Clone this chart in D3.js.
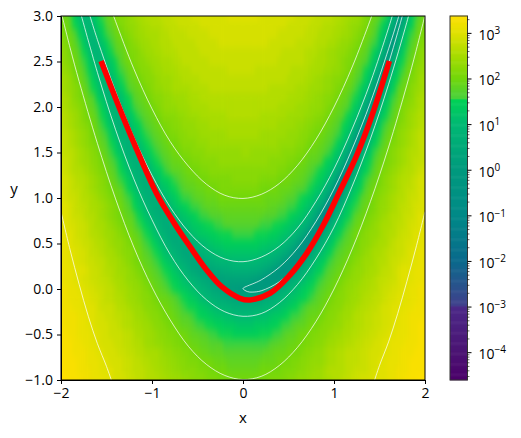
<!DOCTYPE html>
<html>
<head>
<meta charset="utf-8">
<script src="https://cdn.jsdelivr.net/npm/d3@7"></script>
<style>
  html, body { margin: 0; padding: 0; background: #fff; }
  text { font-family: "Open Sans", sans-serif; fill: #000; }
</style>
</head>
<body>
<svg id="chart" width="521" height="438"></svg>
<script>
// log10 of the field, one row per y (3.0 down to -1.0), one column per x (-2.0 to 2.0), step 0.1
const logField = [
[2.0,1.7,1.1,.9,1.4,1.8,2.1,2.2,2.4,2.5,2.6,2.7,2.7,2.8,2.8,2.9,2.9,2.9,2.9,3.0,3.0,3.0,2.9,2.9,2.9,2.9,2.8,2.8,2.7,2.7,2.6,2.5,2.4,2.3,2.0,1.8,1.3,.2,.8,1.6,2.0],
[2.1,1.8,1.3,.9,1.3,1.7,2.0,2.2,2.3,2.5,2.6,2.6,2.7,2.8,2.8,2.8,2.9,2.9,2.9,2.9,2.9,2.9,2.9,2.9,2.9,2.8,2.8,2.8,2.7,2.6,2.6,2.5,2.3,2.2,1.9,1.6,1.1,-.3,1.1,1.7,2.1],
[2.2,1.9,1.4,.9,1.1,1.6,1.9,2.1,2.3,2.4,2.5,2.6,2.7,2.7,2.8,2.8,2.8,2.9,2.9,2.9,2.9,2.9,2.9,2.9,2.8,2.8,2.8,2.7,2.7,2.6,2.5,2.4,2.3,2.1,1.9,1.5,.8,.1,1.3,1.8,2.2],
[2.3,2.0,1.6,1.0,.9,1.4,1.8,2.0,2.2,2.4,2.5,2.6,2.6,2.7,2.7,2.8,2.8,2.8,2.9,2.9,2.9,2.9,2.9,2.8,2.8,2.8,2.7,2.7,2.6,2.6,2.5,2.3,2.2,2.0,1.7,1.3,.4,.6,1.5,1.9,2.2],
[2.3,2.0,1.7,1.2,.8,1.3,1.7,1.9,2.1,2.3,2.4,2.5,2.6,2.7,2.7,2.7,2.8,2.8,2.8,2.8,2.8,2.8,2.8,2.8,2.8,2.7,2.7,2.6,2.6,2.5,2.4,2.3,2.1,1.9,1.6,1.1,-.3,.9,1.6,2.0,2.3],
[2.4,2.1,1.8,1.4,.9,1.1,1.5,1.9,2.1,2.2,2.4,2.5,2.5,2.6,2.7,2.7,2.7,2.8,2.8,2.8,2.8,2.8,2.8,2.8,2.7,2.7,2.7,2.6,2.5,2.5,2.4,2.2,2.1,1.8,1.5,.8,-.1,1.2,1.7,2.1,2.4],
[2.4,2.2,1.9,1.5,1.0,.9,1.4,1.7,2.0,2.2,2.3,2.4,2.5,2.6,2.6,2.7,2.7,2.7,2.7,2.8,2.8,2.8,2.7,2.7,2.7,2.7,2.6,2.6,2.5,2.4,2.3,2.2,2.0,1.7,1.3,.4,.4,1.4,1.9,2.2,2.4],
[2.5,2.3,2.0,1.6,1.1,.8,1.2,1.6,1.9,2.1,2.2,2.4,2.4,2.5,2.6,2.6,2.7,2.7,2.7,2.7,2.7,2.7,2.7,2.7,2.7,2.6,2.6,2.5,2.4,2.3,2.2,2.1,1.9,1.6,1.1,-.3,.9,1.5,1.9,2.2,2.5],
[2.5,2.3,2.1,1.7,1.3,.8,1.1,1.5,1.8,2.0,2.2,2.3,2.4,2.5,2.5,2.6,2.6,2.7,2.7,2.7,2.7,2.7,2.7,2.6,2.6,2.6,2.5,2.5,2.4,2.3,2.2,2.0,1.8,1.4,.8,-.3,1.1,1.7,2.0,2.3,2.5],
[2.6,2.4,2.1,1.8,1.4,.9,.9,1.3,1.7,1.9,2.1,2.2,2.3,2.4,2.5,2.5,2.6,2.6,2.6,2.6,2.6,2.6,2.6,2.6,2.6,2.5,2.5,2.4,2.3,2.2,2.1,1.9,1.6,1.2,.3,.4,1.3,1.8,2.1,2.4,2.6],
[2.6,2.4,2.2,1.9,1.6,1.1,.8,1.2,1.6,1.8,2.0,2.2,2.3,2.4,2.4,2.5,2.5,2.6,2.6,2.6,2.6,2.6,2.6,2.6,2.5,2.5,2.4,2.4,2.3,2.2,2.0,1.8,1.5,1.0,-.5,.8,1.5,1.9,2.2,2.4,2.6],
[2.7,2.5,2.3,2.0,1.7,1.3,.8,1.0,1.4,1.7,1.9,2.1,2.2,2.3,2.4,2.4,2.5,2.5,2.5,2.6,2.6,2.6,2.5,2.5,2.5,2.4,2.4,2.3,2.2,2.1,1.9,1.7,1.3,.7,-.3,1.1,1.6,2.0,2.3,2.5,2.6],
[2.7,2.5,2.3,2.1,1.8,1.4,.9,.8,1.3,1.6,1.8,2.0,2.1,2.2,2.3,2.4,2.4,2.5,2.5,2.5,2.5,2.5,2.5,2.5,2.4,2.4,2.3,2.2,2.1,2.0,1.8,1.5,1.1,.1,.4,1.3,1.8,2.1,2.3,2.5,2.7],
[2.7,2.6,2.4,2.2,1.9,1.6,1.1,.7,1.1,1.5,1.7,1.9,2.1,2.2,2.3,2.3,2.4,2.4,2.4,2.5,2.5,2.5,2.4,2.4,2.4,2.3,2.3,2.2,2.0,1.9,1.7,1.4,.8,-1.0,.8,1.5,1.9,2.2,2.4,2.6,2.7],
[2.8,2.6,2.4,2.2,2.0,1.7,1.3,.8,.9,1.3,1.6,1.8,2.0,2.1,2.2,2.3,2.3,2.4,2.4,2.4,2.4,2.4,2.4,2.4,2.3,2.3,2.2,2.1,2.0,1.8,1.6,1.2,.4,-.1,1.1,1.6,2.0,2.2,2.4,2.6,2.8],
[2.8,2.7,2.5,2.3,2.1,1.8,1.4,.9,.7,1.1,1.5,1.7,1.9,2.0,2.1,2.2,2.3,2.3,2.3,2.3,2.4,2.3,2.3,2.3,2.3,2.2,2.1,2.0,1.9,1.7,1.4,.9,-.4,.6,1.3,1.8,2.1,2.3,2.5,2.6,2.8],
[2.8,2.7,2.5,2.4,2.2,1.9,1.6,1.1,.7,.9,1.3,1.6,1.8,1.9,2.0,2.1,2.2,2.2,2.3,2.3,2.3,2.3,2.3,2.2,2.2,2.1,2.0,1.9,1.8,1.5,1.2,.6,-.7,.9,1.5,1.9,2.1,2.3,2.5,2.7,2.8],
[2.9,2.7,2.6,2.4,2.2,2.0,1.7,1.3,.8,.7,1.1,1.4,1.7,1.8,2.0,2.0,2.1,2.2,2.2,2.2,2.2,2.2,2.2,2.2,2.1,2.0,1.9,1.8,1.6,1.4,1.0,-.1,.3,1.2,1.6,2.0,2.2,2.4,2.6,2.7,2.9],
[2.9,2.8,2.6,2.5,2.3,2.1,1.8,1.5,1.0,.6,.9,1.3,1.5,1.7,1.9,2.0,2.0,2.1,2.1,2.2,2.2,2.2,2.1,2.1,2.0,2.0,1.9,1.7,1.5,1.2,.6,-1.7,.8,1.4,1.8,2.0,2.3,2.5,2.6,2.8,2.9],
[2.9,2.8,2.7,2.5,2.3,2.1,1.9,1.6,1.2,.7,.7,1.1,1.4,1.6,1.8,1.9,2.0,2.0,2.1,2.1,2.1,2.1,2.0,2.0,1.9,1.9,1.7,1.6,1.3,.9,0,.1,1.1,1.5,1.9,2.1,2.3,2.5,2.7,2.8,2.9],
[3.0,2.8,2.7,2.6,2.4,2.2,2.0,1.7,1.4,.9,.6,.9,1.2,1.5,1.6,1.8,1.9,1.9,2.0,2.0,2.0,2.0,2.0,1.9,1.9,1.7,1.6,1.4,1.1,.6,-1.5,.6,1.3,1.7,2.0,2.2,2.4,2.6,2.7,2.8,3.0],
[3.0,2.9,2.7,2.6,2.5,2.3,2.1,1.8,1.5,1.1,.7,.6,1.0,1.3,1.5,1.6,1.8,1.8,1.9,1.9,1.9,1.9,1.9,1.8,1.7,1.6,1.5,1.2,.8,-.1,0,1.0,1.5,1.8,2.0,2.3,2.4,2.6,2.7,2.9,3.0],
[3.0,2.9,2.8,2.6,2.5,2.3,2.1,1.9,1.7,1.3,.9,.6,.8,1.1,1.3,1.5,1.6,1.7,1.8,1.8,1.8,1.8,1.8,1.7,1.6,1.5,1.3,1.0,.4,-1.7,.6,1.2,1.6,1.9,2.1,2.3,2.5,2.6,2.8,2.9,3.0],
[3.0,2.9,2.8,2.7,2.5,2.4,2.2,2.0,1.8,1.5,1.1,.7,.6,.9,1.1,1.3,1.5,1.6,1.7,1.7,1.7,1.7,1.6,1.6,1.5,1.3,1.1,.7,-.4,.1,1.0,1.4,1.7,2.0,2.2,2.4,2.5,2.7,2.8,2.9,3.0],
[3.1,3.0,2.8,2.7,2.6,2.4,2.3,2.1,1.9,1.6,1.3,.9,.5,.6,.9,1.2,1.3,1.4,1.5,1.6,1.6,1.6,1.5,1.4,1.3,1.1,.8,.1,-.7,.6,1.2,1.6,1.9,2.1,2.3,2.4,2.6,2.7,2.8,3.0,3.1],
[3.1,3.0,2.9,2.8,2.6,2.5,2.3,2.2,2.0,1.7,1.5,1.1,.7,.5,.7,.9,1.1,1.3,1.4,1.4,1.4,1.4,1.3,1.2,1.1,.8,.3,-1.0,.3,1.0,1.4,1.7,1.9,2.2,2.3,2.5,2.6,2.8,2.9,3.0,3.1],
[3.1,3.0,2.9,2.8,2.7,2.5,2.4,2.2,2.1,1.8,1.6,1.3,1.0,.6,.4,.7,.9,1.1,1.2,1.2,1.2,1.2,1.1,1.0,.8,.4,-.5,0,.8,1.2,1.6,1.8,2.0,2.2,2.4,2.5,2.7,2.8,2.9,3.0,3.1],
[3.1,3.0,2.9,2.8,2.7,2.6,2.5,2.3,2.1,1.9,1.7,1.5,1.2,.8,.5,.4,.6,.8,.9,1.0,1.0,1.0,.9,.7,.4,-.3,-.3,.6,1.1,1.4,1.7,1.9,2.1,2.3,2.4,2.6,2.7,2.8,2.9,3.0,3.1],
[3.2,3.1,3.0,2.9,2.8,2.6,2.5,2.4,2.2,2.0,1.8,1.6,1.4,1.1,.7,.4,.3,.5,.6,.7,.7,.6,.5,.2,-.3,-.3,.4,.9,1.3,1.6,1.8,2.0,2.2,2.3,2.5,2.6,2.7,2.9,3.0,3.1,3.2],
[3.2,3.1,3.0,2.9,2.8,2.7,2.5,2.4,2.3,2.1,1.9,1.7,1.5,1.3,1.0,.7,.4,.2,.3,.3,.3,.2,0,-.3,-.2,.4,.8,1.2,1.5,1.7,1.9,2.1,2.3,2.4,2.5,2.7,2.8,2.9,3.0,3.1,3.2],
[3.2,3.1,3.0,2.9,2.8,2.7,2.6,2.5,2.3,2.2,2.0,1.8,1.6,1.4,1.2,.9,.7,.4,.2,.1,0,-.1,-.1,.1,.5,.8,1.1,1.4,1.6,1.8,2.0,2.2,2.3,2.5,2.6,2.7,2.8,2.9,3.0,3.1,3.2],
[3.2,3.1,3.1,3.0,2.9,2.7,2.6,2.5,2.4,2.2,2.1,1.9,1.8,1.6,1.4,1.2,.9,.7,.5,.4,.3,.3,.4,.6,.9,1.1,1.3,1.5,1.7,1.9,2.1,2.2,2.4,2.5,2.6,2.7,2.9,3.0,3.0,3.1,3.2],
[3.2,3.2,3.1,3.0,2.9,2.8,2.7,2.6,2.4,2.3,2.2,2.0,1.9,1.7,1.5,1.4,1.2,1.0,.9,.7,.7,.7,.8,.9,1.1,1.3,1.5,1.7,1.8,2.0,2.2,2.3,2.4,2.6,2.7,2.8,2.9,3.0,3.1,3.2,3.2],
[3.3,3.2,3.1,3.0,2.9,2.8,2.7,2.6,2.5,2.4,2.2,2.1,2.0,1.8,1.7,1.5,1.4,1.2,1.1,1.0,1.0,1.0,1.1,1.2,1.3,1.5,1.6,1.8,1.9,2.1,2.2,2.4,2.5,2.6,2.7,2.8,2.9,3.0,3.1,3.2,3.3],
[3.3,3.2,3.1,3.0,2.9,2.9,2.8,2.6,2.5,2.4,2.3,2.2,2.0,1.9,1.8,1.6,1.5,1.4,1.3,1.3,1.2,1.2,1.3,1.4,1.5,1.6,1.8,1.9,2.0,2.2,2.3,2.4,2.5,2.6,2.7,2.8,2.9,3.0,3.1,3.2,3.3],
[3.3,3.2,3.1,3.1,3.0,2.9,2.8,2.7,2.6,2.5,2.4,2.2,2.1,2.0,1.9,1.8,1.7,1.6,1.5,1.4,1.4,1.4,1.5,1.5,1.6,1.8,1.9,2.0,2.1,2.2,2.4,2.5,2.6,2.7,2.8,2.9,3.0,3.1,3.1,3.2,3.3],
[3.3,3.3,3.2,3.1,3.0,2.9,2.8,2.7,2.6,2.5,2.4,2.3,2.2,2.1,2.0,1.9,1.8,1.7,1.6,1.6,1.6,1.6,1.6,1.7,1.8,1.9,2.0,2.1,2.2,2.3,2.4,2.5,2.6,2.7,2.8,2.9,3.0,3.1,3.2,3.2,3.3],
[3.3,3.3,3.2,3.1,3.0,2.9,2.9,2.8,2.7,2.6,2.5,2.4,2.3,2.2,2.1,2.0,1.9,1.8,1.7,1.7,1.7,1.7,1.7,1.8,1.9,2.0,2.0,2.2,2.3,2.4,2.5,2.6,2.7,2.8,2.9,2.9,3.0,3.1,3.2,3.3,3.3],
[3.4,3.3,3.2,3.1,3.1,3.0,2.9,2.8,2.7,2.6,2.5,2.4,2.3,2.2,2.1,2.1,2.0,1.9,1.9,1.8,1.8,1.8,1.9,1.9,2.0,2.0,2.1,2.2,2.3,2.4,2.5,2.6,2.7,2.8,2.9,3.0,3.1,3.1,3.2,3.3,3.4],
[3.4,3.3,3.2,3.2,3.1,3.0,2.9,2.8,2.7,2.7,2.6,2.5,2.4,2.3,2.2,2.1,2.1,2.0,2.0,1.9,1.9,1.9,2.0,2.0,2.0,2.1,2.2,2.3,2.4,2.5,2.6,2.6,2.7,2.8,2.9,3.0,3.1,3.2,3.2,3.3,3.4],
[3.4,3.3,3.3,3.2,3.1,3.0,2.9,2.9,2.8,2.7,2.6,2.5,2.4,2.4,2.3,2.2,2.1,2.1,2.0,2.0,2.0,2.0,2.0,2.1,2.1,2.2,2.3,2.3,2.4,2.5,2.6,2.7,2.8,2.9,2.9,3.0,3.1,3.2,3.3,3.3,3.4]
];

// same rows, columns in between: x = -1.95, -1.85 ... -0.05, 0.05 ... 1.95
const logFieldMid = [
[1.9,1.4,.9,1.2,1.6,1.9,2.2,2.3,2.5,2.6,2.6,2.7,2.8,2.8,2.9,2.9,2.9,2.9,3.0,3.0,3.0,3.0,2.9,2.9,2.9,2.9,2.8,2.8,2.7,2.7,2.6,2.5,2.4,2.1,1.9,1.6,.9,0,1.3,1.8],
[2.0,1.5,1.0,1.0,1.5,1.8,2.1,2.3,2.4,2.5,2.6,2.7,2.7,2.8,2.8,2.9,2.9,2.9,2.9,2.9,2.9,2.9,2.9,2.9,2.9,2.8,2.8,2.7,2.7,2.6,2.5,2.4,2.3,2.1,1.8,1.4,.6,.5,1.4,1.9],
[2.0,1.7,1.2,.9,1.4,1.7,2.0,2.2,2.4,2.5,2.5,2.6,2.7,2.7,2.8,2.8,2.9,2.9,2.9,2.9,2.9,2.9,2.9,2.9,2.8,2.8,2.8,2.7,2.6,2.6,2.5,2.4,2.2,2.0,1.7,1.2,0,.9,1.6,2.0],
[2.1,1.8,1.3,.8,1.2,1.6,1.9,2.1,2.3,2.4,2.5,2.6,2.7,2.7,2.7,2.8,2.8,2.9,2.9,2.9,2.9,2.9,2.9,2.8,2.8,2.8,2.7,2.7,2.6,2.5,2.4,2.3,2.1,1.9,1.6,1.0,-.3,1.1,1.7,2.1],
[2.2,1.9,1.5,.9,1.0,1.5,1.8,2.1,2.2,2.4,2.5,2.6,2.6,2.7,2.7,2.8,2.8,2.8,2.8,2.8,2.8,2.8,2.8,2.8,2.7,2.7,2.7,2.6,2.5,2.4,2.3,2.2,2.0,1.8,1.4,.6,.3,1.3,1.8,2.2],
[2.2,2.0,1.6,1.1,.9,1.3,1.7,2.0,2.2,2.3,2.4,2.5,2.6,2.7,2.7,2.7,2.8,2.8,2.8,2.8,2.8,2.8,2.8,2.8,2.7,2.7,2.7,2.6,2.5,2.4,2.3,2.1,1.9,1.7,1.2,.1,.7,1.5,1.9,2.2],
[2.3,2.0,1.7,1.2,.8,1.2,1.6,1.9,2.1,2.2,2.4,2.5,2.5,2.6,2.7,2.7,2.7,2.7,2.8,2.8,2.8,2.7,2.7,2.7,2.7,2.6,2.6,2.5,2.5,2.4,2.3,2.1,1.8,1.5,1.0,-.5,1.0,1.6,2.0,2.3],
[2.4,2.1,1.8,1.4,.9,1.0,1.5,1.8,2.0,2.2,2.3,2.4,2.5,2.6,2.6,2.7,2.7,2.7,2.7,2.7,2.7,2.7,2.7,2.7,2.7,2.6,2.6,2.5,2.4,2.3,2.2,2.0,1.7,1.4,.6,.1,1.3,1.8,2.1,2.4],
[2.4,2.2,1.9,1.5,1.0,.8,1.3,1.7,1.9,2.1,2.3,2.4,2.5,2.5,2.6,2.6,2.7,2.7,2.7,2.7,2.7,2.7,2.7,2.6,2.6,2.6,2.5,2.4,2.4,2.3,2.1,1.9,1.6,1.2,.1,.6,1.4,1.9,2.2,2.4],
[2.5,2.2,2.0,1.7,1.2,.8,1.1,1.5,1.8,2.0,2.2,2.3,2.4,2.4,2.5,2.6,2.6,2.6,2.6,2.6,2.6,2.6,2.6,2.6,2.6,2.5,2.5,2.4,2.3,2.2,2.0,1.8,1.5,.9,-.7,1.0,1.6,2.0,2.2,2.5],
[2.5,2.3,2.1,1.8,1.4,.8,.9,1.4,1.7,1.9,2.1,2.3,2.3,2.4,2.5,2.5,2.6,2.6,2.6,2.6,2.6,2.6,2.6,2.6,2.5,2.5,2.4,2.3,2.3,2.1,1.9,1.7,1.3,.5,.1,1.2,1.7,2.1,2.3,2.5],
[2.6,2.4,2.1,1.9,1.5,1.0,.8,1.2,1.6,1.8,2.0,2.2,2.2,2.3,2.4,2.5,2.5,2.5,2.6,2.6,2.6,2.6,2.5,2.5,2.5,2.4,2.4,2.3,2.2,2.0,1.8,1.5,1.1,-.2,.6,1.4,1.8,2.1,2.4,2.6],
[2.6,2.4,2.2,2.0,1.6,1.2,.7,1.0,1.4,1.7,1.9,2.1,2.2,2.3,2.3,2.4,2.5,2.5,2.5,2.5,2.5,2.5,2.5,2.5,2.4,2.4,2.3,2.2,2.1,1.9,1.7,1.4,.8,-.8,1.0,1.6,1.9,2.2,2.4,2.6],
[2.7,2.5,2.3,2.0,1.7,1.3,.8,.8,1.3,1.6,1.8,2.0,2.1,2.2,2.3,2.4,2.4,2.4,2.5,2.5,2.5,2.5,2.4,2.4,2.4,2.3,2.2,2.1,2.0,1.8,1.6,1.2,.3,.2,1.2,1.7,2.0,2.3,2.5,2.7],
[2.7,2.5,2.3,2.1,1.8,1.5,1.0,.7,1.1,1.5,1.7,1.9,2.0,2.2,2.2,2.3,2.4,2.4,2.4,2.4,2.4,2.4,2.4,2.4,2.3,2.3,2.2,2.0,1.9,1.7,1.4,.9,-.7,.7,1.4,1.8,2.1,2.3,2.5,2.7],
[2.7,2.6,2.4,2.2,1.9,1.6,1.2,.7,.9,1.3,1.6,1.8,2.0,2.1,2.2,2.2,2.3,2.3,2.3,2.3,2.4,2.3,2.3,2.3,2.2,2.2,2.1,1.9,1.8,1.6,1.2,.5,-.3,1.0,1.6,1.9,2.2,2.4,2.6,2.7],
[2.8,2.6,2.4,2.2,2.0,1.7,1.4,.9,.7,1.1,1.5,1.7,1.9,2.0,2.1,2.2,2.2,2.3,2.3,2.3,2.3,2.3,2.3,2.2,2.2,2.1,2.0,1.8,1.7,1.4,1.0,-.2,.4,1.3,1.7,2.0,2.2,2.4,2.6,2.7],
[2.8,2.6,2.5,2.3,2.1,1.8,1.5,1.1,.7,.9,1.3,1.6,1.8,1.9,2.0,2.1,2.2,2.2,2.2,2.2,2.2,2.2,2.2,2.2,2.1,2.0,1.9,1.7,1.5,1.2,.6,-1.2,.8,1.4,1.8,2.1,2.3,2.5,2.6,2.8],
[2.9,2.7,2.6,2.4,2.2,1.9,1.6,1.3,.8,.7,1.1,1.4,1.6,1.8,1.9,2.0,2.1,2.1,2.1,2.2,2.2,2.2,2.1,2.1,2.0,1.9,1.8,1.6,1.4,1.0,0,.2,1.1,1.6,1.9,2.2,2.4,2.6,2.7,2.9],
[2.9,2.7,2.6,2.4,2.2,2.0,1.8,1.4,1.0,.6,.9,1.2,1.5,1.7,1.8,1.9,2.0,2.1,2.1,2.1,2.1,2.1,2.0,2.0,1.9,1.8,1.7,1.5,1.2,.6,-1.5,.7,1.3,1.7,2.0,2.2,2.4,2.6,2.7,2.9],
[2.9,2.8,2.6,2.5,2.3,2.1,1.9,1.6,1.2,.7,.7,1.0,1.3,1.6,1.7,1.8,1.9,2.0,2.0,2.0,2.0,2.0,1.9,1.9,1.8,1.7,1.5,1.3,.9,0,0,1.0,1.5,1.8,2.1,2.3,2.5,2.6,2.8,2.9],
[3.0,2.8,2.7,2.5,2.4,2.2,2.0,1.7,1.3,.9,.6,.8,1.2,1.4,1.6,1.7,1.8,1.9,1.9,1.9,1.9,1.9,1.9,1.8,1.7,1.6,1.4,1.1,.5,-1.5,.6,1.3,1.6,1.9,2.1,2.3,2.5,2.7,2.8,2.9],
[3.0,2.8,2.7,2.6,2.4,2.2,2.0,1.8,1.5,1.1,.7,.6,.9,1.2,1.4,1.6,1.7,1.7,1.8,1.8,1.8,1.8,1.7,1.7,1.6,1.4,1.2,.8,-.2,0,1.0,1.4,1.8,2.0,2.2,2.4,2.6,2.7,2.8,3.0],
[3.0,2.9,2.8,2.6,2.5,2.3,2.1,1.9,1.6,1.3,.9,.5,.7,1.0,1.3,1.4,1.5,1.6,1.7,1.7,1.7,1.7,1.6,1.5,1.4,1.2,.9,.3,-1.2,.6,1.2,1.6,1.9,2.1,2.3,2.5,2.6,2.7,2.9,3.0],
[3.0,2.9,2.8,2.6,2.5,2.4,2.2,2.0,1.8,1.5,1.1,.7,.5,.8,1.1,1.3,1.4,1.5,1.5,1.6,1.6,1.5,1.5,1.4,1.2,1.0,.5,-.7,.2,1.0,1.4,1.7,2.0,2.2,2.3,2.5,2.6,2.8,2.9,3.0],
[3.1,2.9,2.8,2.7,2.6,2.4,2.3,2.1,1.9,1.6,1.3,.9,.5,.5,.8,1.0,1.2,1.3,1.4,1.4,1.4,1.4,1.3,1.2,1.0,.6,-.2,-.3,.7,1.2,1.6,1.8,2.0,2.2,2.4,2.5,2.7,2.8,2.9,3.0],
[3.1,3.0,2.9,2.7,2.6,2.5,2.3,2.2,2.0,1.7,1.5,1.1,.8,.4,.5,.8,1.0,1.1,1.2,1.2,1.2,1.2,1.1,.9,.6,.1,-.8,.4,1.0,1.4,1.7,1.9,2.1,2.3,2.5,2.6,2.7,2.8,3.0,3.1],
[3.1,3.0,2.9,2.8,2.7,2.5,2.4,2.2,2.0,1.8,1.6,1.3,1.0,.6,.4,.5,.7,.9,.9,1.0,1.0,.9,.8,.5,.1,-.7,.2,.8,1.3,1.6,1.8,2.0,2.2,2.4,2.5,2.6,2.8,2.9,3.0,3.1],
[3.1,3.0,3.0,2.8,2.7,2.6,2.4,2.3,2.1,1.9,1.7,1.5,1.2,.9,.5,.3,.4,.5,.6,.7,.7,.6,.4,0,-.5,.1,.7,1.1,1.4,1.7,1.9,2.1,2.3,2.4,2.5,2.7,2.8,3.0,3.0,3.1],
[3.1,3.0,2.9,2.8,2.7,2.6,2.5,2.3,2.2,2.0,1.8,1.6,1.4,1.1,.8,.5,.3,.2,.3,.3,.3,.1,-.2,-.3,.1,.6,1.0,1.3,1.6,1.8,2.0,2.2,2.3,2.5,2.6,2.7,2.8,3.0,3.0,3.1],
[3.2,3.1,3.0,2.9,2.8,2.7,2.5,2.4,2.3,2.1,1.9,1.7,1.5,1.3,1.1,.8,.5,.3,.1,0,0,-.1,0,.3,.6,1.0,1.3,1.5,1.7,1.9,2.1,2.3,2.4,2.5,2.6,2.8,2.9,3.0,3.1,3.2],
[3.2,3.1,3.0,2.9,2.8,2.7,2.6,2.4,2.3,2.2,2.0,1.9,1.7,1.5,1.3,1.0,.8,.6,.4,.3,.3,.3,.5,.7,1.0,1.2,1.4,1.6,1.8,2.0,2.2,2.3,2.4,2.6,2.7,2.8,2.9,3.0,3.1,3.2],
[3.2,3.1,3.0,3.0,2.8,2.8,2.6,2.5,2.4,2.2,2.1,2.0,1.8,1.6,1.5,1.3,1.1,.9,.8,.7,.7,.7,.9,1.0,1.2,1.4,1.6,1.8,1.9,2.1,2.2,2.4,2.5,2.6,2.7,2.9,3.0,3.0,3.1,3.2],
[3.2,3.2,3.1,3.0,2.9,2.8,2.7,2.6,2.4,2.3,2.2,2.0,1.9,1.7,1.6,1.4,1.3,1.2,1.1,1.0,1.0,1.1,1.1,1.3,1.4,1.6,1.7,1.9,2.0,2.2,2.3,2.4,2.6,2.7,2.8,2.9,3.0,3.1,3.2,3.2],
[3.2,3.2,3.1,3.0,2.9,2.8,2.7,2.6,2.5,2.4,2.2,2.1,2.0,1.8,1.7,1.6,1.5,1.4,1.3,1.2,1.2,1.3,1.3,1.4,1.6,1.7,1.8,2.0,2.1,2.2,2.3,2.5,2.6,2.7,2.8,2.9,3.0,3.1,3.2,3.3],
[3.3,3.2,3.1,3.0,2.9,2.8,2.8,2.7,2.5,2.4,2.3,2.2,2.1,2.0,1.8,1.7,1.6,1.5,1.5,1.4,1.4,1.4,1.5,1.6,1.7,1.8,2.0,2.1,2.2,2.3,2.4,2.5,2.6,2.7,2.8,2.9,3.0,3.1,3.2,3.3],
[3.3,3.2,3.1,3.0,2.9,2.9,2.8,2.7,2.6,2.4,2.3,2.2,2.1,2.0,1.9,1.8,1.7,1.7,1.6,1.6,1.6,1.6,1.6,1.7,1.8,1.9,2.0,2.1,2.2,2.4,2.5,2.6,2.7,2.8,2.9,3.0,3.1,3.1,3.2,3.3],
[3.3,3.2,3.2,3.1,3.0,2.9,2.8,2.7,2.6,2.5,2.5,2.3,2.2,2.1,2.0,1.9,1.8,1.8,1.7,1.7,1.7,1.7,1.8,1.9,1.9,2.0,2.1,2.2,2.3,2.5,2.6,2.7,2.7,2.8,2.9,3.0,3.1,3.2,3.2,3.3],
[3.3,3.3,3.2,3.1,3.0,2.9,2.9,2.8,2.7,2.6,2.5,2.4,2.3,2.2,2.1,2.0,2.0,1.9,1.8,1.8,1.8,1.8,1.9,1.9,2.0,2.1,2.2,2.3,2.3,2.5,2.6,2.7,2.7,2.8,2.9,3.0,3.1,3.2,3.3,3.3],
[3.3,3.3,3.2,3.1,3.0,3.0,2.9,2.8,2.7,2.6,2.5,2.4,2.3,2.2,2.2,2.1,2.0,2.0,1.9,1.9,1.9,1.9,2.0,2.0,2.1,2.1,2.2,2.3,2.4,2.6,2.6,2.7,2.8,2.8,2.9,3.0,3.1,3.2,3.3,3.3],
[3.4,3.3,3.2,3.1,3.1,3.0,2.9,2.8,2.7,2.6,2.6,2.5,2.4,2.3,2.2,2.2,2.1,2.0,2.0,2.0,2.0,2.0,2.0,2.1,2.1,2.2,2.3,2.4,2.4,2.5,2.6,2.7,2.8,2.9,3.0,3.0,3.1,3.2,3.3,3.4]
];

// white contours, read as [x, y] along each line
const contour1000Left = [[-2,.85],[-1.9,.43],[-1.8,.05],[-1.7,-.3],[-1.6,-.6],[-1.5,-.85],[-1.44,-1.02]];
const contour1000Right = [[1.44,-1.02],[1.5,-.84],[1.6,-.58],[1.7,-.27],[1.8,.08],[1.9,.45],[2,.85]];
const contour100Upper = [[-1.45,3.08],[-1.4,2.94],[-1.2,2.42],[-1,1.98],[-.8,1.62],[-.6,1.35],[-.4,1.15],[-.2,1.03],[0,.995],[.2,1.04],[.4,1.16],[.6,1.36],[.8,1.64],[1,2],[1.2,2.44],[1.4,2.96],[1.45,3.1]];
const contour100Lower = [[-2,3.05],[-1.9,2.65],[-1.8,2.28],[-1.6,1.6],[-1.4,.99],[-1.2,.46],[-1,.02],[-.8,-.34],[-.6,-.63],[-.4,-.83],[-.2,-.95],[0,-.995],[.2,-.96],[.4,-.84],[.6,-.64],[.8,-.36],[1,0],[1.2,.44],[1.4,.96],[1.6,1.56],[1.8,2.24],[1.9,2.61],[2,3.01]];
const contour10Upper = [[-1.7,3.06],[-1.6,2.74],[-1.4,2.17],[-1.2,1.67],[-1,1.25],[-.8,.9],[-.6,.63],[-.4,.44],[-.2,.33],[0,.3],[.2,.35],[.4,.47],[.6,.67],[.8,.96],[1,1.32],[1.2,1.76],[1.4,2.27],[1.6,2.87],[1.7,3.2]];
const contour10Lower = [[-1.8,3.09],[-1.6,2.38],[-1.4,1.75],[-1.2,1.21],[-1,.76],[-.8,.38],[-.6,.09],[-.4,-.12],[-.2,-.25],[0,-.3],[.2,-.27],[.4,-.15],[.6,.05],[.8,.33],[1,.68],[1.2,1.13],[1.4,1.65],[1.6,2.25],[1.8,2.93],[1.85,3.12]];
const contour1 = [[1.75,3.13],[1.7,2.96],[1.6,2.64],[1.4,2.05],[1.2,1.54],[1,1.1],[.8,.74],[.6,.45],[.4,.24],[.2,.1],[.1,.054],[.05,.034],[0,.005],[.05,-.029],[.1,-.034],[.2,-.02],[.4,.08],[.6,.27],[.8,.54],[1,.9],[1.2,1.34],[1.4,1.87],[1.6,2.48],[1.7,2.82],[1.8,3.18]];
const contours = [contour1000Left, contour1000Right, contour100Upper, contour100Lower, contour10Upper, contour10Lower, contour1];

// red curve
const redCurve = [[-1.56,2.505],[-1.37,2.02],[-1.205,1.62],[-.95,1.05],[-.766,.74],[-.582,.465],[-.4,.209],[-.234,.025],[-.033,-.102],[.077,-.12],[.297,-.047],[.516,.154],[.7,.392],[.883,.703],[1.047,1.04],[1.25,1.47],[1.432,1.95],[1.608,2.505]];

const xTicks = [-2, -1, 0, 1, 2];
const yTicks = [-1, -.5, 0, .5, 1, 1.5, 2, 2.5, 3];
const cbarDecades = [-4, -3, -2, -1, 0, 1, 2, 3];
const cbarMultiples = [2, 3, 4, 5, 6, 7, 8, 9];

// colour bar, as log10 value -> colour
const colorLogs = [-4.61, -4, -3.02, -2.98, -2, -1, 0, 1, 1.53, 1.535, 1.7, 2, 2.5, 3, 3.37];
const colorHexes = ["#4b0069", "#4b1473", "#4b2887", "#41418c", "#0a6a8c", "#008a87", "#009a7d", "#00b973", "#00d255", "#46d23c", "#55d22d", "#73d70a", "#a8dc00", "#e1e100", "#ffe000"];
// the field cells are only 0.1 apart in log value, so the step at 1.53 is eased a little for them
const fieldLogs = [-4.61, -4, -3.02, -2.98, -2, -1, 0, 1, 1.47, 1.63, 1.7, 2, 2.5, 3, 3.37];

const margin = { left: 61, right: 96, top: 16, bottom: 58 };
const width = 521, height = 438;
const plotW = width - margin.left - margin.right;
const plotH = height - margin.top - margin.bottom;

const svg = d3.select("#chart");
const color = d3.scaleLinear().domain(colorLogs).range(colorHexes).clamp(true);
const fieldColor = d3.scaleLinear().domain(fieldLogs).range(colorHexes).clamp(true);
const x = d3.scaleLinear().domain([-2, 2]).range([margin.left, margin.left + plotW]);
const y = d3.scaleLinear().domain([-1, 3]).range([margin.top + plotH, margin.top]);

const defs = svg.append("defs");
defs.append("clipPath").attr("id", "plotClip").append("rect")
    .attr("x", margin.left).attr("y", margin.top).attr("width", plotW).attr("height", plotH);
const blur = defs.append("filter").attr("id", "smooth")
    .attr("filterUnits", "userSpaceOnUse")
    .attr("x", margin.left - 30).attr("y", margin.top - 30)
    .attr("width", plotW + 60).attr("height", plotH + 60)
    .attr("color-interpolation-filters", "sRGB");
blur.append("feGaussianBlur").attr("stdDeviation", "2 3.6");
blur.append("feComponentTransfer").append("feFuncA").attr("type", "linear").attr("slope", 4);

// field cells
const midX = d3.range(-1.95, 0, 0.1).concat(d3.range(0.05, 2, 0.1));
const cells = logField.flatMap((row, j) => row.map((v, i) => ({ gx: -2 + i * 0.1, gy: 3 - j * 0.1, v })))
    .concat(logFieldMid.flatMap((row, j) => row.map((v, i) => ({ gx: midX[i], gy: 3 - j * 0.1, v }))));
const plot = svg.append("g").attr("clip-path", "url(#plotClip)");
const cellW = x(0.05) - x(0), cellH = y(0) - y(0.1);
plot.append("g").attr("filter", "url(#smooth)")
    .selectAll("rect")
    .data(cells)
    .join("rect")
    .attr("x", d => x(d.gx) - cellW / 2 - 0.3)
    .attr("y", d => y(d.gy) - cellH / 2 - 0.3)
    .attr("width", cellW + 0.6)
    .attr("height", cellH + 0.6)
    .attr("fill", d => fieldColor(d.v));

const line = d3.line().x(d => x(d[0])).y(d => y(d[1])).curve(d3.curveCatmullRom);

plot.selectAll("path.contour")
    .data(contours)
    .join("path")
    .attr("class", "contour")
    .attr("d", line)
    .attr("fill", "none")
    .attr("stroke", "#fff")
    .attr("stroke-opacity", 0.9)
    .attr("stroke-width", 0.8);

plot.append("path")
    .attr("d", line(redCurve))
    .attr("fill", "none")
    .attr("stroke", "#ff0000")
    .attr("stroke-width", 5.6);

// axes
const fmtX = d => String(d).replace("-", "\u2212");
const fmtY = d => d3.format(".1f")(d).replace("-", "\u2212");

const gx = svg.append("g").attr("transform", `translate(0,${margin.top + plotH})`)
    .call(d3.axisBottom(x).tickValues(xTicks).tickFormat(fmtX).tickSize(4).tickSizeOuter(0).tickPadding(4));
const gy = svg.append("g").attr("transform", `translate(${margin.left},0)`)
    .call(d3.axisLeft(y).tickValues(yTicks).tickFormat(fmtY).tickSize(4).tickSizeOuter(0).tickPadding(4));
[gx, gy].forEach(g => g.selectAll("text").attr("font-size", 14).attr("font-family", '"Open Sans", sans-serif'));

svg.append("rect")
    .attr("x", margin.left).attr("y", margin.top).attr("width", plotW).attr("height", plotH)
    .attr("fill", "none").attr("stroke", "#000").attr("stroke-width", 1);

svg.append("text").attr("x", x(0)).attr("y", 423).attr("text-anchor", "middle").attr("font-size", 15).text("x");
svg.append("text").attr("x", 14).attr("y", 194).attr("text-anchor", "middle").attr("font-size", 15).text("y");

// colour bar
const cbLeft = 450, cbRight = 467.5;
const cbScale = d3.scaleLog().domain([Math.pow(10, -4.61), Math.pow(10, 3.37)]).range([margin.top + plotH, margin.top]);
const cbSteps = d3.range(-4.61, 3.37, 0.02);
svg.append("g").selectAll("rect")
    .data(cbSteps)
    .join("rect")
    .attr("x", cbLeft)
    .attr("width", cbRight - cbLeft)
    .attr("y", d => cbScale(Math.pow(10, d + 0.02)) - 0.3)
    .attr("height", d => cbScale(Math.pow(10, d)) - cbScale(Math.pow(10, d + 0.02)) + 0.6)
    .attr("fill", d => color(d));
svg.append("rect")
    .attr("x", cbLeft).attr("y", margin.top).attr("width", cbRight - cbLeft).attr("height", plotH)
    .attr("fill", "none").attr("stroke", "#333").attr("stroke-width", 1);

const minorValues = d3.range(-5, 4).flatMap(d => cbarMultiples.map(m => m * Math.pow(10, d)))
    .filter(v => v > cbScale.domain()[0] && v < cbScale.domain()[1]);
svg.append("g").attr("transform", `translate(${cbRight},0)`)
    .call(d3.axisRight(cbScale).tickValues(minorValues).tickFormat("").tickSize(2).tickSizeOuter(0))
    .call(g => g.select(".domain").remove())
    .selectAll("line").attr("stroke-width", 0.6);

const cbAxis = svg.append("g").attr("transform", `translate(${cbRight},0)`)
    .call(d3.axisRight(cbScale).tickValues(cbarDecades.map(d => Math.pow(10, d))).tickFormat("").tickSize(4).tickSizeOuter(0));
cbAxis.select(".domain").remove();
cbAxis.selectAll(".tick").data(cbarDecades).each(function (d) {
    const t = d3.select(this).select("text").attr("x", 11).attr("dy", "0.45em").attr("font-size", 14);
    t.append("tspan").text("10");
    t.append("tspan").attr("dy", "-0.55em").attr("font-size", 10).text(String(d).replace("-", "\u2212"));
});
</script>
</body>
</html>
